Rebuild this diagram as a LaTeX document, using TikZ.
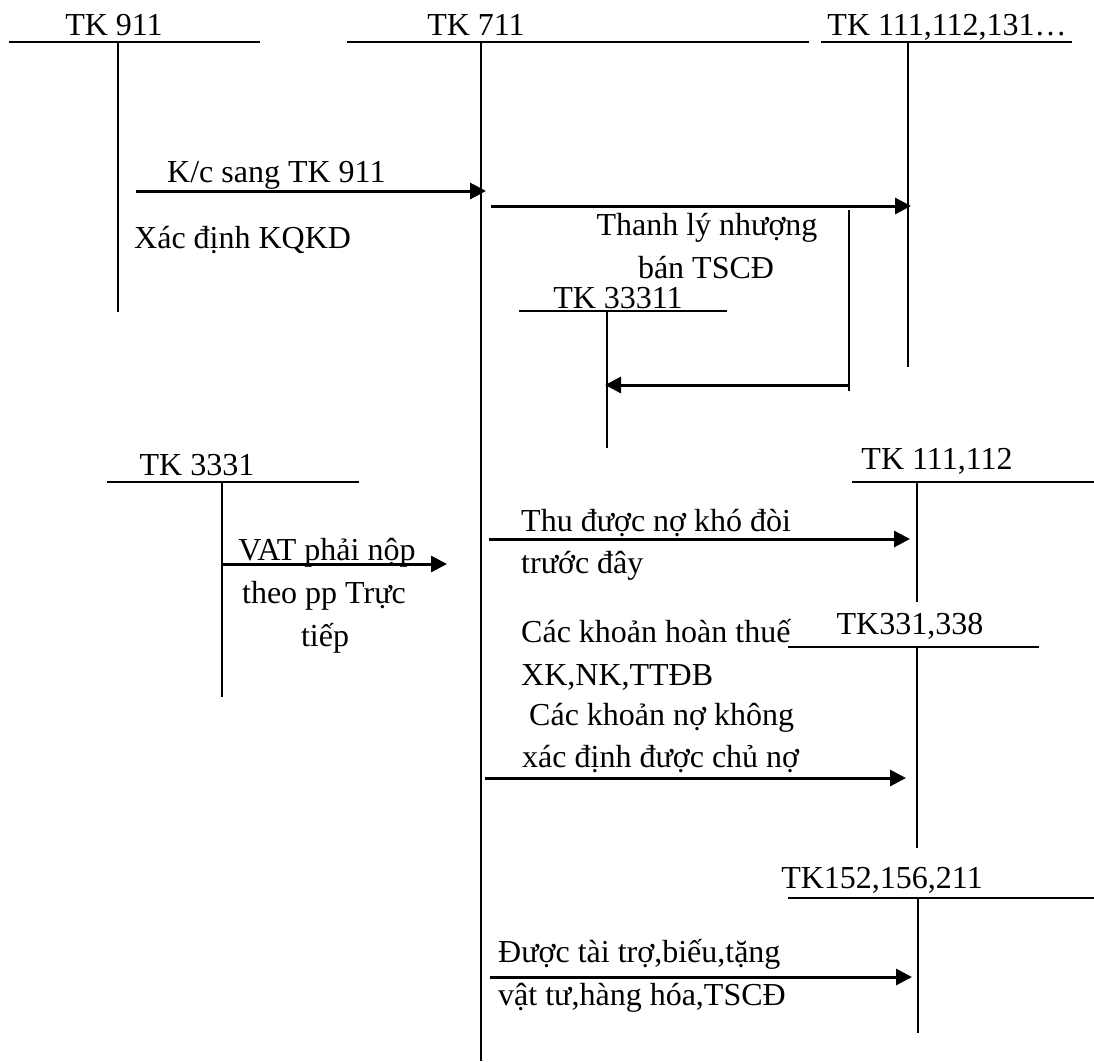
\documentclass[tikz,border=0pt]{standalone}
\usepackage{fontspec}
\setmainfont{Liberation Serif}
\usetikzlibrary{arrows.meta}

\tikzset{
	acct/.style={line width=2pt},
	flow/.style={line width=3pt,-{Triangle[length=16pt,width=16pt]}},
	lbl/.style={inner sep=0pt,font=\fontsize{32}{43}\selectfont},
}

\begin{document}
\begin{tikzpicture}[x=1pt,y=-1pt]
				\useasboundingbox (0,0) rectangle (1094,1061);
				% T accounts: name/label/left/right/stem/top/bottom/label x/label y
				\foreach \n/\t/\xl/\xr/\xs/\yt/\yb/\xc/\yc in
					{t911/{TK 911}/9/260/118/42/312/114/35,
					 t711/{TK 711}/347/809/481/42/1061/476/35,
					 t111/{TK 111,112,131…}/821/1072/908/42/367/947/35,
					 t33311/{TK 33311}/519/727/607/311/448/618/308,
					 t3331/{TK 3331}/107/359/222/482/697/197/475,
					 t112/{TK 111,112}/852/1094/917/482/602/937/469,
					 t338/{TK331,338}/788/1039/917/647/848/910/634,
					 t211/{TK152,156,211}/788/1094/918/898/1033/882/888}
				{
					\node[lbl,anchor=base] (\n) at (\xc,\yc) {\t};
					\coordinate (\n-l) at (\xl,\yt);
					\coordinate (\n-r) at (\xr,\yt);
					\coordinate (\n-top) at (\xs,\yt);
					\coordinate (\n-bot) at (\xs,\yb);
					\draw[acct] (\n-l) -- (\n-r);
					\draw[acct] (\n-top) -- (\n-bot);
				}

				% arrow ends
				\coordinate (kc-a) at (136,191);
				\coordinate (kc-b) at (486,191);
				\coordinate (tl-a) at (491,206);
				\coordinate (tl-b) at (911,206);
				\coordinate (ret-top) at (849,210);
				\coordinate (ret-bot) at (849,391);
				\coordinate (ret-a) at (849,385);
				\coordinate (ret-b) at (605,385);
				\coordinate (vat-a) at (222,564);
				\coordinate (vat-b) at (447,564);
				\coordinate (thu-a) at (489,539);
				\coordinate (thu-b) at (910,539);
				\coordinate (cn-a) at (485,778);
				\coordinate (cn-b) at (906,778);
				\coordinate (dt-a) at (490,977);
				\coordinate (dt-b) at (912,977);

				\draw[flow] (kc-a) -- (kc-b);
				\draw[flow] (tl-a) -- (tl-b);
				\draw[acct] (ret-top) -- (ret-bot);
				\draw[flow] (ret-a) -- (ret-b);
				\draw[flow] (vat-a) -- (vat-b);
				\draw[flow] (thu-a) -- (thu-b);
				\draw[flow] (cn-a) -- (cn-b);
				\draw[flow] (dt-a) -- (dt-b);

				% texts
				\node[lbl,anchor=base west] (kc) at (167,182) {K/c sang TK 911};
				\node[lbl,anchor=base west] (xd) at (134,248) {Xác định KQKD};
				\node[lbl,anchor=base] (tl1) at (707,235) {Thanh lý nhượng};
				\node[lbl,anchor=base] (tl2) at (706,278) {bán TSCĐ};
				\node[lbl,anchor=base] (vat1) at (327,560) {VAT phải nộp};
				\node[lbl,anchor=base] (vat2) at (324,603) {theo pp Trực};
				\node[lbl,anchor=base] (vat3) at (325,646) {tiếp};
				\node[lbl,anchor=base west] (thu1) at (521,531) {Thu được nợ khó đòi};
				\node[lbl,anchor=base west] (thu2) at (521,573) {trước đây};
				\node[lbl,anchor=base west] (ck1) at (521,642) {Các khoản hoàn thuế};
				\node[lbl,anchor=base west] (ck2) at (521,685) {XK,NK,TTĐB};
				\node[lbl,anchor=base west] (cn1) at (529,725) {Các khoản nợ không};
				\node[lbl,anchor=base west] (cn2) at (522,767) {xác định được chủ nợ};
				\node[lbl,anchor=base west] (dt1) at (498,962) {Được tài trợ,biếu,tặng};
				\node[lbl,anchor=base west] (dt2) at (498,1005) {vật tư,hàng hóa,TSCĐ};
\end{tikzpicture}
\end{document}
